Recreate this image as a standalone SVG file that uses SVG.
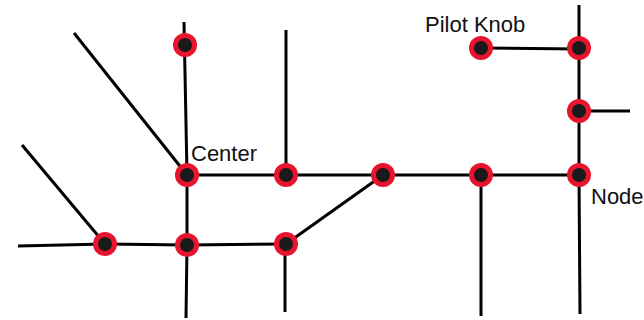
<svg xmlns="http://www.w3.org/2000/svg" width="644" height="320" viewBox="0 0 644 320">
<style>
.c line{stroke:#000;stroke-width:3;stroke-linecap:butt}
.o{fill:#e8132d}
.i{fill:#1a1a1a}
text{font-family:"Liberation Sans",Arial,sans-serif;font-size:22px;fill:#111}
</style>
<defs>
<g id="n"><circle class="o" r="12"/><circle class="i" r="7"/></g>
</defs>
<rect width="644" height="320" fill="#fff"/>
<g id="connectors" class="c">
<line x1="184" y1="22" x2="187" y2="175"/>
<line x1="187" y1="175" x2="187" y2="245"/>
<line x1="187" y1="245" x2="186" y2="318"/>
<line x1="74" y1="33" x2="187" y2="175"/>
<line x1="286" y1="30" x2="286" y2="175"/>
<line x1="187" y1="175" x2="579" y2="175"/>
<line x1="22" y1="145" x2="105" y2="244"/>
<line x1="18" y1="246" x2="105" y2="244"/>
<line x1="105" y1="244" x2="187" y2="245"/>
<line x1="187" y1="245" x2="286" y2="244"/>
<line x1="286" y1="244" x2="383" y2="175"/>
<line x1="285" y1="244" x2="285" y2="312"/>
<line x1="481" y1="175" x2="481" y2="316"/>
<line x1="579" y1="175" x2="580" y2="314"/>
<line x1="579" y1="5" x2="579" y2="175"/>
<line x1="579" y1="111" x2="630" y2="111"/>
<line x1="481" y1="48" x2="579" y2="49"/>
</g>
<g id="n-top"><use href="#n" x="185" y="45"/></g>
<g id="n-center"><use href="#n" x="187" y="175"/><text x="191" y="161">Center</text></g>
<g id="n-b"><use href="#n" x="286" y="175"/></g>
<g id="n-c"><use href="#n" x="383" y="175"/></g>
<g id="n-d"><use href="#n" x="481" y="175"/></g>
<g id="n-node"><use href="#n" x="579" y="175"/><text x="591" y="204">Node</text></g>
<g id="n-f"><use href="#n" x="579" y="111"/></g>
<g id="n-g"><use href="#n" x="579" y="48"/></g>
<g id="n-pilot"><use href="#n" x="481" y="48"/><text x="425" y="32">Pilot Knob</text></g>
<g id="n-h"><use href="#n" x="105" y="244"/></g>
<g id="n-i"><use href="#n" x="187" y="245"/></g>
<g id="n-j"><use href="#n" x="286" y="244"/></g>
</svg>
